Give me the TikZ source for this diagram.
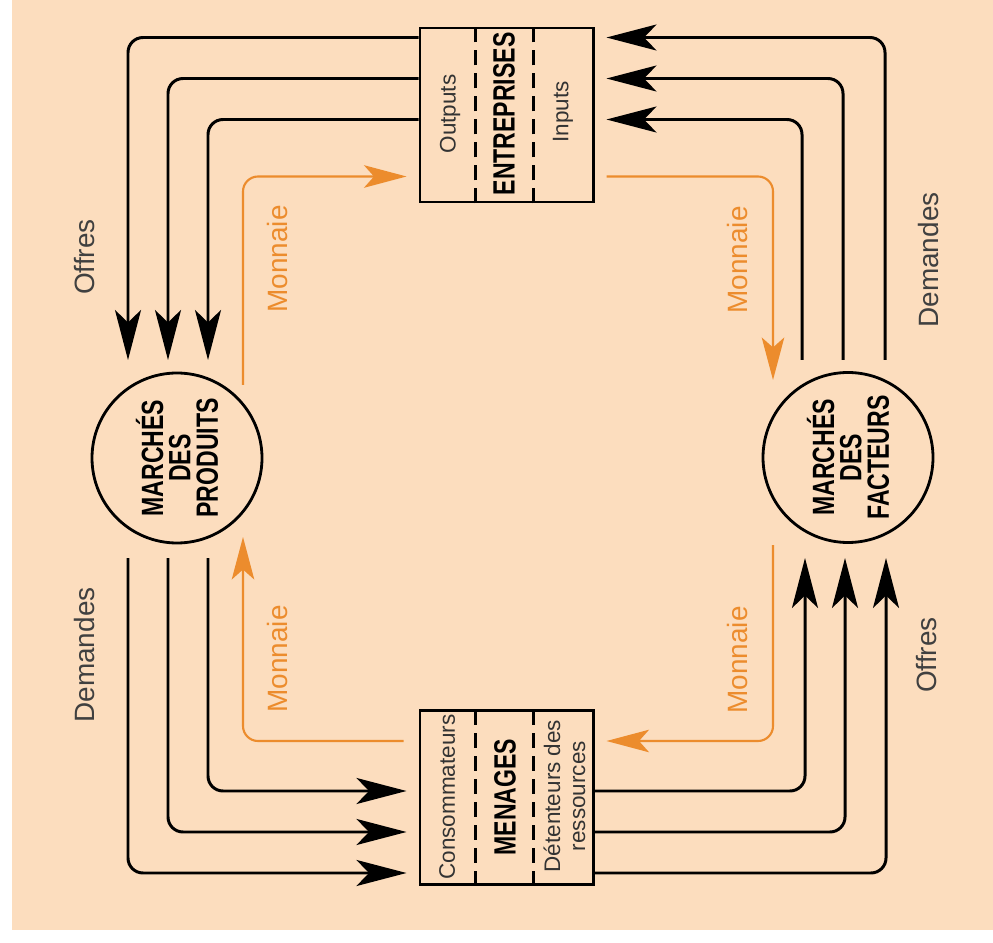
\documentclass[tikz,border=0pt]{standalone}
\usepackage{fontspec}
\setmainfont{Liberation Sans}
\newfontfamily\narrowfont[FakeStretch=0.75]{Liberation Sans}
\usetikzlibrary{arrows.meta}
\definecolor{peach}{RGB}{252,221,190}
\definecolor{orangeflow}{RGB}{236,140,45}

\begin{document}
\begin{tikzpicture}[line width=1.7pt,
  flow/.style={rounded corners=0.3cm,-{Stealth[length=1cm,width=0.52cm,inset=0.25cm]}},
  moneyflow/.style={draw=orangeflow,line width=1.2pt,rounded corners=0.3cm,-{Stealth[length=0.85cm,width=0.45cm,inset=0.2cm]}},
  box/.style={draw,minimum width=3.46cm,minimum height=3.48cm,inner sep=0pt},
  market/.style={draw,circle,line width=1.6pt,minimum size=3.4cm,inner sep=0pt,rotate=90,align=center,
    font=\narrowfont\bfseries\fontsize{17.5}{15.6}\selectfont},
  lbl/.style={rotate=90,text=black!75,font=\fontsize{15.9}{19}\selectfont},
  small/.style={rotate=90,align=center,text=black!80,font=\fontsize{12.8}{14.2}\selectfont},
  title/.style={rotate=90,font=\narrowfont\bfseries\fontsize{17.5}{19}\selectfont},
  divider/.style={line width=1.2pt,dash pattern=on 0.3cm off 0.16cm}]
\useasboundingbox (0,0) rectangle (19.86,18.84);
\fill[peach] (0.24,0.24) rectangle (19.86,18.84);
% ---------- agents ----------
\node[box] (ent) at (10.13,16.54) {};
\draw[divider] ([xshift=1.14cm]ent.south west) -- ([xshift=1.14cm]ent.north west);
\draw[divider] ([xshift=2.30cm]ent.south west) -- ([xshift=2.30cm]ent.north west);
\node[small] (outp) at (9.00,16.56) {Outputs};
\node[title] (entr) at (10.08,16.56) {ENTREPRISES};
\node[small] (inp) at (11.26,16.60) {Inputs};
\node[box] (men) at (10.13,2.89) {};
\draw[divider] ([xshift=1.14cm]men.south west) -- ([xshift=1.14cm]men.north west);
\draw[divider] ([xshift=2.30cm]men.south west) -- ([xshift=2.30cm]men.north west);
\node[small] (cons) at (8.94,2.90) {Consommateurs};
\node[title] (mena) at (10.10,2.90) {MENAGES};
\node[small] (dete) at (11.29,2.92) {Détenteurs des\\ressources};
% ---------- markets ----------
\node[market] (pm) at (3.54,9.68) {MARCHÉS\\DES\\PRODUITS};
\node[market] (pf) at (16.96,9.69) {MARCHÉS\\DES\\FACTEURS};
% free ends next to the markets
\coordinate (o1) at (2.56,11.64);
\coordinate (o2) at (3.36,11.64);
\coordinate (o3) at (4.16,11.64);
\coordinate (e1) at (2.56,7.68);
\coordinate (e2) at (3.36,7.68);
\coordinate (e3) at (4.16,7.68);
\coordinate (d1) at (16.04,11.64);
\coordinate (d2) at (16.86,11.64);
\coordinate (d3) at (17.70,11.64);
\coordinate (f1) at (16.10,7.68);
\coordinate (f2) at (16.90,7.68);
\coordinate (f3) at (17.72,7.68);
\coordinate (m1) at (4.86,11.14);
\coordinate (m2) at (15.46,11.24);
\coordinate (m3) at (15.46,7.94);
\coordinate (m4) at (4.86,8.10);
% ---------- offres de produits ----------
\draw[flow] ([yshift=-0.22cm]ent.north west) -| (o1);
\draw[flow] ([yshift=-1.04cm]ent.north west) -| (o2);
\draw[flow] ([yshift=-1.86cm]ent.north west) -| (o3);
\node[lbl] (offp) at (1.70,13.70) {Offres};
% ---------- demandes de facteurs ----------
\draw[flow] (d3) |- ([xshift=0.24cm,yshift=-0.22cm]ent.north east);
\draw[flow] (d2) |- ([xshift=0.24cm,yshift=-1.04cm]ent.north east);
\draw[flow] (d1) |- ([xshift=0.24cm,yshift=-1.86cm]ent.north east);
\node[lbl] (demf) at (18.56,13.64) {Demandes};
% ---------- demandes de produits ----------
\draw[flow] (e1) |- ([xshift=-0.24cm,yshift=0.26cm]men.south west);
\draw[flow] (e2) |- ([xshift=-0.24cm,yshift=1.08cm]men.south west);
\draw[flow] (e3) |- ([xshift=-0.24cm,yshift=1.90cm]men.south west);
\node[lbl] (demp) at (1.70,5.74) {Demandes};
% ---------- offres de facteurs ----------
\draw[flow] ([yshift=1.90cm]men.south east) -| (f1);
\draw[flow] ([yshift=1.08cm]men.south east) -| (f2);
\draw[flow] ([yshift=0.26cm]men.south east) -| (f3);
\node[lbl] (offf) at (18.54,5.74) {Offres};
% ---------- monnaie ----------
\draw[moneyflow] (m1) |- ([xshift=-0.24cm,yshift=0.54cm]ent.south west);
\draw[moneyflow] ([xshift=0.24cm,yshift=0.54cm]ent.south east) -| (m2);
\draw[moneyflow] (m3) |- ([xshift=0.24cm,yshift=-0.64cm]men.north east);
\draw[moneyflow] ([xshift=-0.30cm,yshift=-0.64cm]men.north west) -| (m4);
\node[lbl,text=orangeflow] (mo1) at (5.56,13.66) {Monnaie};
\node[lbl,text=orangeflow] (mo2) at (14.76,13.64) {Monnaie};
\node[lbl,text=orangeflow] (mo3) at (5.56,5.66) {Monnaie};
\node[lbl,text=orangeflow] (mo4) at (14.76,5.64) {Monnaie};
\end{tikzpicture}
\end{document}
